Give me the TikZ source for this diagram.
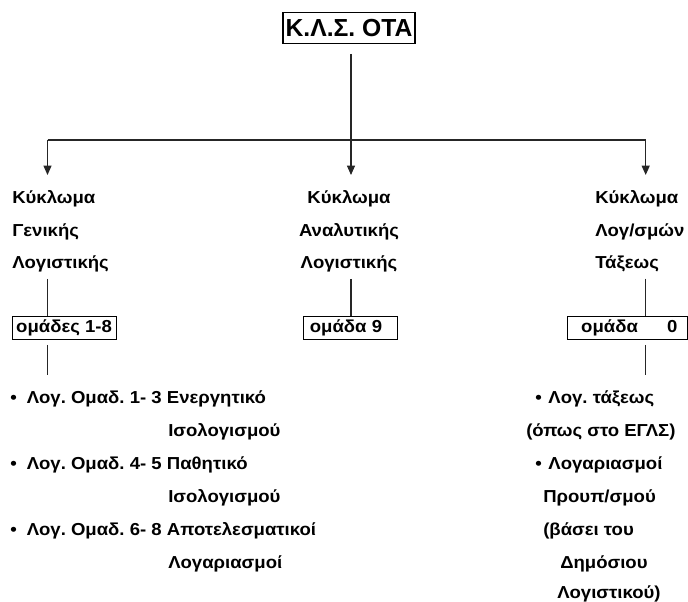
\documentclass[tikz,border=0pt]{standalone}
\usepackage{fontspec}
\setmainfont{Liberation Sans}[FakeStretch=1.07]
\newfontfamily\titlefont{Liberation Sans}
\usetikzlibrary{arrows.meta}
\frenchspacing
\begin{document}
\begin{tikzpicture}[x=0.75pt,y=-0.75pt,
  tf/.style={font=\bfseries\fontsize{13}{15}\selectfont},
  txt/.style={tf, anchor=base west, inner sep=0pt},
  ctxt/.style={tf, anchor=base, inner sep=0pt},
  ln/.style={line width=0.8pt, draw=black!85},
  arr/.style={ln, -{Triangle[width=6pt,length=7pt]}},
  grp/.style={tf, draw=black, line width=0.8pt, inner xsep=0pt, inner ysep=0pt, minimum height=17pt, anchor=west}
]
\useasboundingbox (0,0) rectangle (688,602);
% title
\node[draw=black, line width=0.8pt, inner xsep=2pt, inner ysep=0pt, minimum height=23pt,
      font=\titlefont\bfseries\fontsize{18.5}{20}\selectfont] (t) at (349,28) {Κ.Λ.Σ. ΟΤΑ};
% junction coordinates
\coordinate (j) at (351,140);
\coordinate (h1) at (47.5,140);
\coordinate (h3) at (645.7,140);
\coordinate (a1) at (47.5,175);
\coordinate (a2) at (351,175);
\coordinate (a3) at (645.7,175);
\coordinate (e1) at (47.5,375);
\coordinate (e3) at (645.7,375);
\draw[ln] (t.south -| j) ++(0,10) -- (j);
\draw[ln] (h1) -- (h3);
\draw[arr] (h1) -- (a1);
\draw[arr] (j) -- (a2);
\draw[arr] (h3) -- (a3);
% circuits
\node[txt] (k1a) at (12,204) {Κύκλωμα};
\node[txt] (k1b) at (12,236) {Γενικής};
\node[txt] (k1c) at (12,268) {Λογιστικής};
\node[ctxt] (k2a) at (349,204) {Κύκλωμα};
\node[ctxt] (k2b) at (349,236) {Αναλυτικής};
\node[ctxt] (k2c) at (349,268) {Λογιστικής};
\node[txt] (k3a) at (595,204) {Κύκλωμα};
\node[txt] (k3b) at (595,236) {Λογ/σμών};
\node[txt] (k3c) at (595,268) {Τάξεως};
% group boxes
\node[grp] (g1) at (11.7,328) {\makebox[78pt][l]{\hspace*{3pt}ομάδες 1-8}};
\node[grp] (g2) at (302.7,328) {\makebox[71pt][l]{\hspace*{5pt}ομάδα 9}};
\node[grp] (g3) at (567.3,328) {\makebox[89.5pt][l]{\hspace*{10pt}ομάδα\hspace{22pt}0}};
% connectors circuit -> group
\draw[ln] (k1c.south -| h1) ++(0,7) -- (g1.north -| h1);
\draw[ln] (k2c.south -| j) ++(0,7) -- (g2.north -| j);
\draw[ln] (k3c.south -| h3) ++(0,7) -- (g3.north -| h3);
\draw[ln] (g1.south -| h1) ++(0,5) -- (e1);
\draw[ln] (g3.south -| h3) ++(0,5) -- (e3);
% left bullets
\node[txt] (b1) at (10,403) {•\hspace{7.5pt}Λογ. Ομαδ. 1- 3 Ενεργητικό};
\node[txt] (b1c) at (168,436) {Ισολογισμού};
\node[txt] (b2) at (10,469) {•\hspace{7.5pt}Λογ. Ομαδ. 4- 5 Παθητικό};
\node[txt] (b2c) at (168,502) {Ισολογισμού};
\node[txt] (b3) at (10,535) {•\hspace{7.5pt}Λογ. Ομαδ. 6- 8 Αποτελεσματικοί};
\node[txt] (b3c) at (168,568) {Λογαριασμοί};
% right bullets
\node[txt] (r1) at (535,403) {•\hspace{5pt}Λογ. τάξεως};
\node[txt] (r1c) at (526,436) {(όπως στο ΕΓΛΣ)};
\node[txt] (r2) at (535,469) {•\hspace{5pt}Λογαριασμοί};
\node[txt] (r2c) at (543,502) {Προυπ/σμού};
\node[txt] (r2d) at (543,535) {(βάσει του};
\node[txt] (r2e) at (560,568) {Δημόσιου};
\node[txt] (r2f) at (557,598) {Λογιστικού)};
\end{tikzpicture}
\end{document}
